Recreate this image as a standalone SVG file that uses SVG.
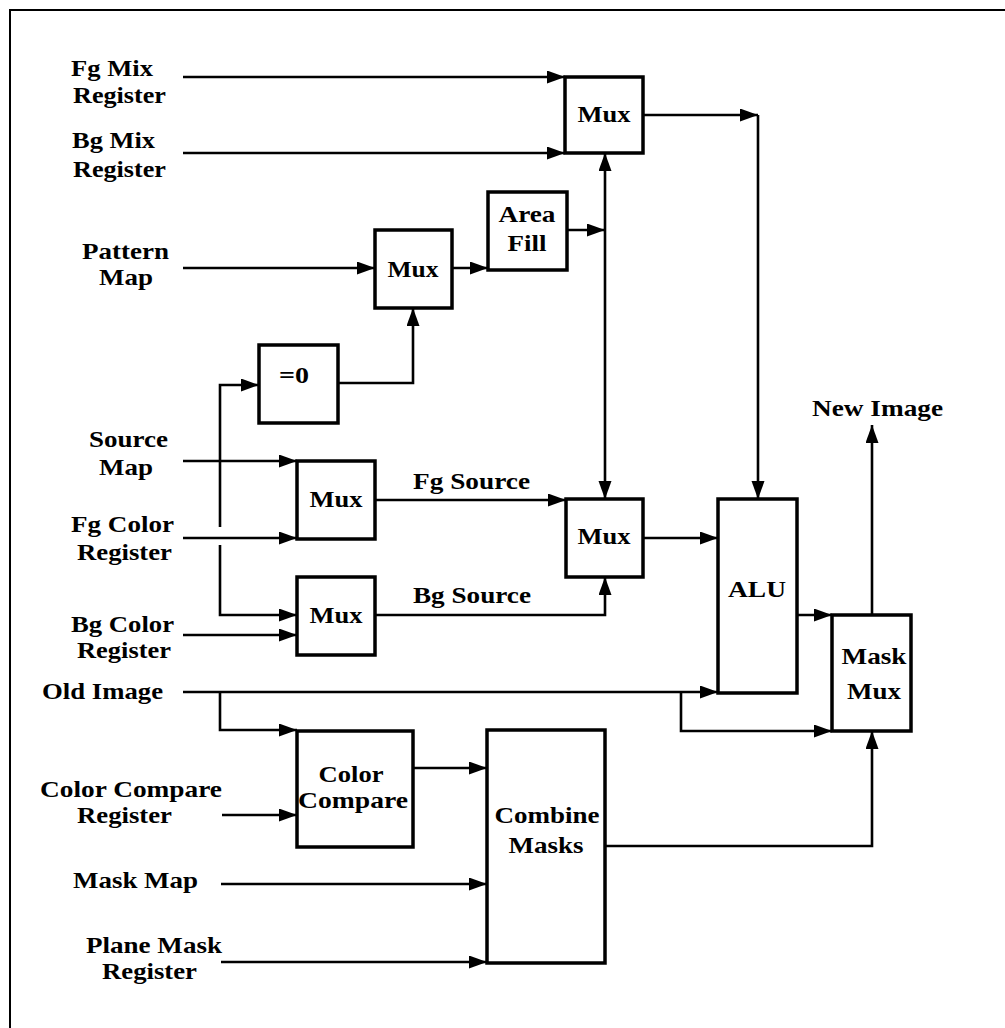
<svg xmlns="http://www.w3.org/2000/svg" width="1005" height="1028" viewBox="0 0 1005 1028">
<defs>
<marker id="ah" markerUnits="userSpaceOnUse" markerWidth="20" markerHeight="14" refX="18" refY="6.5" orient="auto-start-reverse">
<path d="M0,0 L18,6.5 L0,13 z" fill="#000"/>
</marker>
<style>
.frame{fill:none;stroke:#000;stroke-width:2}
.box{fill:#fff;stroke:#000;stroke-width:3.5}
.c{fill:none;stroke:#000;stroke-width:2.6}
.a{marker-end:url(#ah)}
.m{text-anchor:middle}
</style>
</defs>
<rect width="1005" height="1028" fill="#fff"/>
<path class="frame" d="M10,1028 V10 H1005"/>

<g id="connectors">
<path class="c a" d="M183,77 H565"/>
<path class="c a" d="M183,153 H565"/>
<path class="c a" d="M643,115 H758"/>
<path class="c a" d="M758,115 V499"/>
<path class="c a" d="M605,499 V153" style="marker-start:url(#ah)"/>
<path class="c a" d="M567,230 H605"/>
<path class="c a" d="M183,268 H375"/>
<path class="c a" d="M452,268 H488"/>
<path class="c a" d="M338,383 H413 V308"/>
<path class="c a" d="M183,461 H297"/>
<path class="c a" d="M220,461 V385 H259"/>
<path class="c" d="M220,461 V527"/>
<path class="c a" d="M220,545 V615 H297"/>
<path class="c a" d="M183,538 H297"/>
<path class="c a" d="M183,635 H297"/>
<path class="c a" d="M375,500 H566"/>
<path class="c a" d="M375,615 H605 V577"/>
<path class="c a" d="M643,538 H718"/>
<path class="c a" d="M797,615 H832"/>
<path class="c a" d="M872,615 V425"/>
<path class="c a" d="M183,692 H718"/>
<path class="c a" d="M220,692 V730 H297"/>
<path class="c a" d="M681,692 V731 H832"/>
<path class="c a" d="M222,815 H297"/>
<path class="c a" d="M413,768 H487"/>
<path class="c a" d="M221,884 H487"/>
<path class="c a" d="M221,962 H487"/>
<path class="c a" d="M605,846 H872 V731"/>
</g>

<g id="labels" font-family="'Liberation Serif', 'Times New Roman', Times, serif" font-weight="700" font-size="23" fill="#000">
<text x="71" y="76" textLength="82" lengthAdjust="spacingAndGlyphs">Fg Mix</text>
<text x="73" y="103" textLength="93" lengthAdjust="spacingAndGlyphs">Register</text>
<text x="72" y="148" textLength="83" lengthAdjust="spacingAndGlyphs">Bg Mix</text>
<text x="73" y="177" textLength="93" lengthAdjust="spacingAndGlyphs">Register</text>
<text x="82" y="259" textLength="87" lengthAdjust="spacingAndGlyphs">Pattern</text>
<text x="99" y="285" textLength="54" lengthAdjust="spacingAndGlyphs">Map</text>
<text x="89" y="447" textLength="79" lengthAdjust="spacingAndGlyphs">Source</text>
<text x="99" y="475" textLength="54" lengthAdjust="spacingAndGlyphs">Map</text>
<text x="71" y="532" textLength="103" lengthAdjust="spacingAndGlyphs">Fg Color</text>
<text x="77" y="560" textLength="95" lengthAdjust="spacingAndGlyphs">Register</text>
<text x="71" y="632" textLength="103" lengthAdjust="spacingAndGlyphs">Bg Color</text>
<text x="77" y="658" textLength="94" lengthAdjust="spacingAndGlyphs">Register</text>
<text x="42" y="699" textLength="121" lengthAdjust="spacingAndGlyphs">Old Image</text>
<text x="40" y="797" textLength="182" lengthAdjust="spacingAndGlyphs">Color Compare</text>
<text x="77" y="823" textLength="95" lengthAdjust="spacingAndGlyphs">Register</text>
<text x="73" y="888" textLength="125" lengthAdjust="spacingAndGlyphs">Mask Map</text>
<text x="86" y="953" textLength="136" lengthAdjust="spacingAndGlyphs">Plane Mask</text>
<text x="102" y="979" textLength="95" lengthAdjust="spacingAndGlyphs">Register</text>
<text x="413" y="489" textLength="117" lengthAdjust="spacingAndGlyphs">Fg Source</text>
<text x="413" y="603" textLength="118" lengthAdjust="spacingAndGlyphs">Bg Source</text>
<text x="812" y="416" textLength="131" lengthAdjust="spacingAndGlyphs">New Image</text>
</g>

<g font-family="'Liberation Serif', 'Times New Roman', Times, serif" font-weight="700" font-size="23" fill="#000">
<g id="muxTop"><rect class="box" x="565" y="77" width="78" height="76"/><text class="m" x="604" y="122" textLength="53" lengthAdjust="spacingAndGlyphs">Mux</text></g>
<g id="areaFill"><rect class="box" x="488" y="192" width="79" height="78"/><text class="m" x="527" y="222" textLength="57" lengthAdjust="spacingAndGlyphs">Area</text><text class="m" x="527" y="251" textLength="39" lengthAdjust="spacingAndGlyphs">Fill</text></g>
<g id="muxPattern"><rect class="box" x="375" y="230" width="77" height="78"/><text class="m" x="413" y="277" textLength="51" lengthAdjust="spacingAndGlyphs">Mux</text></g>
<g id="isZero"><rect class="box" x="259" y="345" width="79" height="78"/><text class="m" x="294" y="383" textLength="30" lengthAdjust="spacingAndGlyphs">=0</text></g>
<g id="muxFg"><rect class="box" x="297" y="461" width="78" height="78"/><text class="m" x="336" y="507" textLength="53" lengthAdjust="spacingAndGlyphs">Mux</text></g>
<g id="muxBg"><rect class="box" x="297" y="577" width="78" height="78"/><text class="m" x="336" y="623" textLength="53" lengthAdjust="spacingAndGlyphs">Mux</text></g>
<g id="muxSource"><rect class="box" x="566" y="499" width="77" height="78"/><text class="m" x="604" y="544" textLength="53" lengthAdjust="spacingAndGlyphs">Mux</text></g>
<g id="alu"><rect class="box" x="718" y="499" width="79" height="194"/><text class="m" x="757" y="597" textLength="58" lengthAdjust="spacingAndGlyphs">ALU</text></g>
<g id="maskMux"><rect class="box" x="832" y="615" width="79" height="116"/><text class="m" x="874" y="664" textLength="65" lengthAdjust="spacingAndGlyphs">Mask</text><text class="m" x="874" y="699" textLength="54" lengthAdjust="spacingAndGlyphs">Mux</text></g>
<g id="colorCompare"><rect class="box" x="297" y="731" width="116" height="116"/><text class="m" x="351" y="782" textLength="65" lengthAdjust="spacingAndGlyphs">Color</text><text class="m" x="353" y="808" textLength="110" lengthAdjust="spacingAndGlyphs">Compare</text></g>
<g id="combineMasks"><rect class="box" x="487" y="730" width="118" height="233"/><text class="m" x="547" y="823" textLength="105" lengthAdjust="spacingAndGlyphs">Combine</text><text class="m" x="546" y="853" textLength="75" lengthAdjust="spacingAndGlyphs">Masks</text></g>
</g>
</svg>
